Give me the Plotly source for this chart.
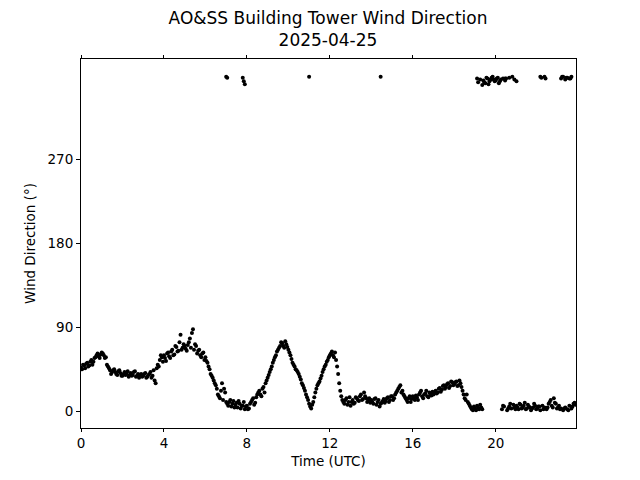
import plotly.graph_objects as go

# Samples every 0.1 h (hours UTC) of wind direction (deg)
step_h = 0.1
wind_dir = [
    47, 50, 46, 52, 49, 55, 53, 58, 62, 57,
    63, 60, 58, 48, 44, 42, 45, 40, 43, 41,
    38, 42, 40, 37, 41, 39, 43, 38, 36, 40,
    38, 41, 37, 40, 36, 44, 30, 50, 55, 58,
    60, 54, 63, 57, 66, 61, 69, 65, 82, 68,
    70, 65, 74, 68, 88, 72, 62, 66, 58, 63,
    58, 52, 45, 38, 33, 28, 18, 14, 30, 24,
    10, 6, 12, 8, 4, 9, 11, 3, 6, 2,
    6, 3, 10, 14, 9, 18, 22, 16, 26, 30,
    36, 42, 48, 55, 60, 66, 70, 73, 68, 72,
    66, 60, 52, 48, 44, 40, 34, 28, 22, 15,
    8, 3, 10, 20, 28, 32, 38, 45, 50, 55,
    60, 64, 58, 55, 40, 22, 12, 8, 14, 10,
    6, 12, 9, 14, 11, 18, 13, 16, 10, 14,
    12, 8, 14, 10, 5, 9, 13, 11, 15, 12,
    16, 14, 20, 24, 28, 22, 16, 12, 14, 10,
    16, 12, 15, 18, 22, 14, 19, 16, 20, 17,
    18, 22, 20, 25, 23, 28, 26, 30, 27, 31,
    29, 32, 28, 30, 22, 14, 18, 8, 4, 1,
    3, 6, 2, 4, 355, 352, 357, 354, 358, 356,
    355, 358, 354, 2, 5, 357, 3, 8, 359, 4,
    6, 2, 7, 4, 9, 3, 5, 1, 4, 6,
    3, 5, 358, 2, 357, 4, 10, 6, 14, 8,
    4, 2, 359, 3, 358, 1, 357, 5, 9,
]

# Samples taken halfway between the above (offset 0.05 h)
wind_dir_mid = [
    45, 49, 51, 48, 53, 50, 57, 60, 59, 61,
    62, 57, 50, 46, 40, 44, 42, 39, 44, 38,
    40, 39, 43, 39, 38, 42, 37, 40, 39, 37,
    40, 36, 39, 42, 38, 33, 46, 48, 60, 53,
    57, 62, 59, 64, 60, 70, 64, 74, 66, 72,
    67, 71, 78, 84, 66, 70, 65, 60, 62, 55,
    54, 48, 40, 36, 30, 24, 16, 22, 12, 20,
    8, 10, 5, 11, 7, 4, 8, 6, 10, 5,
    2, 8, 12, 7, 15, 20, 18, 24, 20, 33,
    39, 45, 52, 58, 64, 68, 74, 70, 75, 69,
    63, 56, 50, 45, 42, 37, 30, 25, 18, 12,
    5, 7, 15, 24, 30, 35, 42, 48, 53, 58,
    62, 60, 63, 48, 30, 16, 10, 12, 7, 15,
    10, 8, 15, 12, 16, 12, 20, 14, 12, 9,
    10, 13, 7, 12, 8, 11, 9, 14, 10, 16,
    12, 18, 22, 26, 20, 18, 14, 10, 16, 13,
    14, 17, 12, 20, 16, 18, 22, 15, 18, 21,
    20, 19, 24, 21, 27, 24, 29, 25, 32, 28,
    31, 27, 33, 26, 18, 12, 10, 6, 2, 5,
    1, 4, 7, 2, 353, 358, 351, 356, 359, 354,
    357, 352, 356, 6, 357, 1, 5, 3, 7, 2,
    4, 8, 3, 6, 2, 7, 4, 3, 8, 2,
    5, 1, 6, 4, 2, 8, 12, 4, 9, 3,
    6, 3, 1, 4, 2, 6, 3, 8, 7,
]

# Additional individual readings (hours, deg)
extra_time = [7.0, 7.05, 7.8, 7.85, 7.9, 11.0, 14.45, 19.1, 19.15, 19.25,
              19.35, 20.35, 20.45, 20.65, 20.9, 21.0, 22.15, 22.35, 23.15,
              23.25, 23.35, 23.45, 23.55, 23.65]
extra_dir = [359, 358, 358, 354, 351, 359, 359, 357, 353, 356,
             350, 357, 355, 358, 356, 354, 359, 359, 357,
             359, 356, 358, 357, 359]

x_ticks = [0, 4, 8, 12, 16, 20]
y_ticks = [0, 90, 180, 270]

times = ([round(i * step_h, 2) for i in range(len(wind_dir))]
         + [round(i * step_h + step_h / 2, 3) for i in range(len(wind_dir_mid))]
         + extra_time)
values = wind_dir + wind_dir_mid + extra_dir

fig = go.Figure()
fig.add_trace(go.Scatter(
    x=times, y=values, mode="markers",
    marker=dict(color="black", size=4, line=dict(width=0)),
    showlegend=False, hoverinfo="skip",
))

xr = [0, 23.87]
font = dict(family="DejaVu Sans", size=13.5, color="black")
fig.update_layout(
    width=640, height=480,
    paper_bgcolor="white", plot_bgcolor="white",
    margin=dict(l=73, r=72, t=51, b=60, autoexpand=False),
    font=font,
    title=dict(text="AO&SS Building Tower Wind Direction<br>2025-04-25",
               x=0.5, xanchor="center", y=0.967, yanchor="top",
               font=dict(family="DejaVu Sans", size=17, color="black")),
    xaxis=dict(range=xr, tickvals=x_ticks, ticks="outside", ticklen=3,
               tickcolor="black", showline=True, linecolor="black",
               linewidth=1, mirror="ticks", showgrid=False, zeroline=False,
               title=dict(text="Time (UTC)", standoff=6,
                          font=dict(family="DejaVu Sans", size=13.5, color="black")),
               tickfont=font),
    xaxis2=dict(range=xr, tickvals=x_ticks, ticks="inside", ticklen=3,
                tickcolor="black", overlaying="x", side="bottom",
                mirror="ticks", showticklabels=False, showgrid=False,
                zeroline=False, showline=False),
    yaxis=dict(range=[-18, 378], tickvals=y_ticks, ticks="outside",
               ticklen=4, tickcolor="black", showline=True,
               linecolor="black", linewidth=1, mirror=True, showgrid=False,
               zeroline=False,
               title=dict(text="Wind Direction (°)", standoff=8,
                          font=dict(family="DejaVu Sans", size=13.5, color="black")),
               tickfont=font),
)

fig.write_html("out.html")
